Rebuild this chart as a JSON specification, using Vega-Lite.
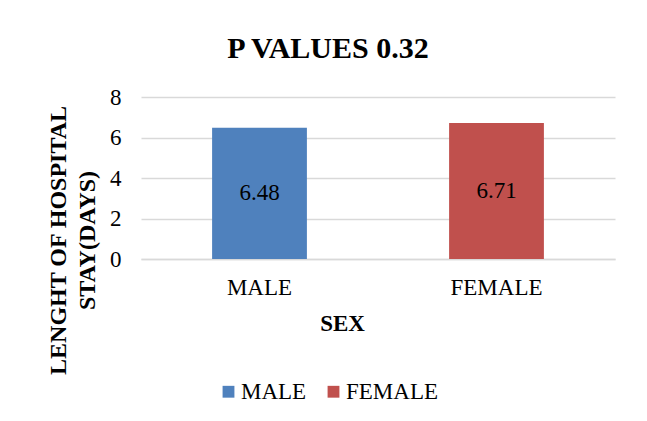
{
  "$schema": "https://vega.github.io/schema/vega-lite/v6.json",
  "autosize": {"type": "none"},
  "width": 474,
  "height": 162,
  "padding": {"left": 141, "top": 97, "right": 32, "bottom": 162},
  "background": "white",
  "config": {
    "font": "Liberation Serif",
    "view": {"stroke": null}
  },
  "title": {
    "text": "P VALUES 0.32",
    "font": "Liberation Serif",
    "fontSize": 30,
    "fontWeight": "bold",
    "color": "#000000",
    "anchor": "middle",
    "dx": -50,
    "offset": 22
  },
  "data": {
    "values": [
      {"sex": "MALE", "days": 6.48},
      {"sex": "FEMALE", "days": 6.71}
    ]
  },
  "encoding": {
    "x": {
      "field": "sex",
      "type": "nominal",
      "sort": ["MALE", "FEMALE"],
      "scale": {"paddingInner": 0.6, "paddingOuter": 0.3},
      "axis": {
        "title": "SEX",
        "titleFont": "Liberation Serif",
        "titleFontSize": 23,
        "titleFontWeight": "bold",
        "titleColor": "#000000",
        "titleX": 201,
        "titleY": 64,
        "titleBaseline": "middle",
        "labelAngle": 0,
        "labelFont": "Liberation Serif",
        "labelFontSize": 23,
        "labelColor": "#000000",
        "labelPadding": 17,
        "ticks": false,
        "domainColor": "#d9d9d9",
        "domainWidth": 1.5
      }
    }
  },
  "layer": [
    {
      "mark": {"type": "bar"},
      "encoding": {
        "y": {
          "field": "days",
          "type": "quantitative",
          "scale": {"domain": [0, 8]},
          "axis": {
            "title": ["LENGHT OF HOSPITAL", "STAY(DAYS)"],
            "titleFont": "Liberation Serif",
            "titleFontSize": 24,
            "titleFontWeight": "bold",
            "titleColor": "#000000",
            "titleLineHeight": 29,
            "titleX": -83,
            "titleY": 143,
            "titleBaseline": "middle",
            "titleAlign": "center",
            "values": [0, 2, 4, 6, 8],
            "labelFont": "Liberation Serif",
            "labelFontSize": 23,
            "labelColor": "#000000",
            "labelPadding": 20,
            "ticks": false,
            "domain": false,
            "gridColor": "#d9d9d9",
            "gridWidth": 1.5
          }
        },
        "color": {
          "field": "sex",
          "type": "nominal",
          "sort": ["MALE", "FEMALE"],
          "scale": {"domain": ["MALE", "FEMALE"], "range": ["#4f81bd", "#c0504d"]},
          "legend": {
            "title": null,
            "orient": "none",
            "direction": "horizontal",
            "legendX": 76,
            "legendY": 283,
            "symbolType": "square",
            "symbolSize": 140,
            "symbolStrokeWidth": 0,
            "symbolOpacity": 1,
            "labelFont": "Liberation Serif",
            "labelFontSize": 23,
            "labelColor": "#000000",
            "labelOffset": 1,
            "columnPadding": 15
          }
        }
      }
    },
    {
      "mark": {"type": "text", "fontSize": 23, "font": "Liberation Serif", "color": "#000000", "baseline": "middle"},
      "encoding": {
        "y": {"field": "days", "type": "quantitative", "scale": {"domain": [0, 16]}, "axis": null},
        "text": {"field": "days", "type": "quantitative", "format": ".2f"}
      }
    }
  ],
  "resolve": {"scale": {"y": "independent"}}
}
